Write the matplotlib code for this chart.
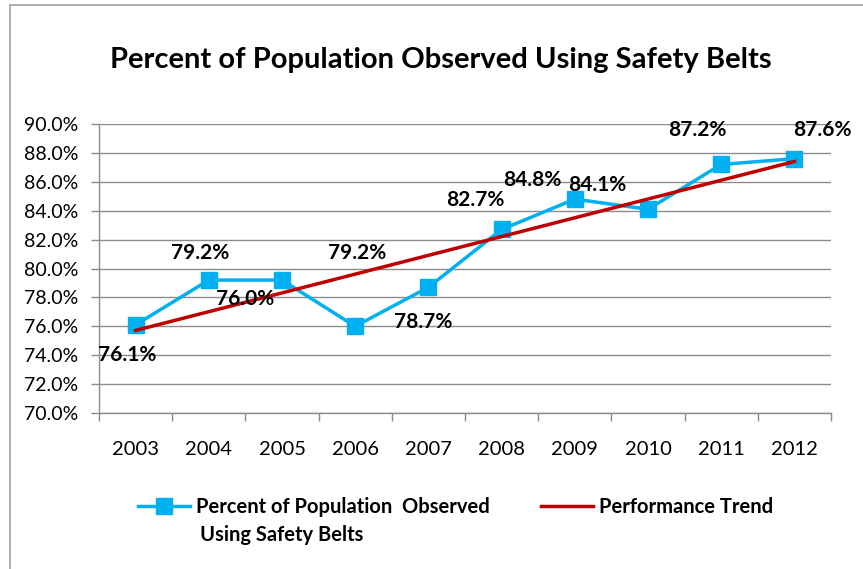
import numpy as np
import matplotlib
matplotlib.use("Agg")
import matplotlib.pyplot as plt
from matplotlib.patches import Rectangle

plt.rcParams['font.family'] = ['Lato', 'DejaVu Sans']

years = ['2003', '2004', '2005', '2006', '2007', '2008', '2009', '2010', '2011', '2012']
belt_use = [76.1, 79.2, 79.2, 76.0, 78.7, 82.7, 84.8, 84.1, 87.2, 87.6]
y_ticks = [70, 72, 74, 76, 78, 80, 82, 84, 86, 88, 90]
series_name = ['Percent of Population  Observed', 'Using Safety Belts']
trend_name = 'Performance Trend'
title = 'Percent of Population Observed Using Safety Belts'

# label placement (category units, data units) as seen in the original
label_pos = [(-0.11, 74.0), (0.875, 81.07), (3.02, 81.07), (1.49, 77.9), (3.93, 76.3),
             (4.64, 84.74), (5.42, 86.12), (6.31, 85.78), (7.67, 89.58), (9.38, 89.58)]

CYAN = '#00B0F0'
RED = '#C00000'

fig = plt.figure(figsize=(8.63, 5.69), dpi=100)
W, H = 863, 569
# outer chart border
fig.patches.append(Rectangle((10 / W, -0.1), 1.0, 1 - 5 / H + 0.1, transform=fig.transFigure,
                             fill=False, edgecolor='#A0A0A0', linewidth=1.2))

ax = fig.add_axes([99 / W, 1 - 413 / H, (831 - 99) / W, (413 - 124) / H])
x = np.arange(len(years))

ax.set_xlim(-0.5, len(years) - 0.5)
ax.set_ylim(70, 90)
ax.set_yticks(y_ticks)
ax.set_yticklabels([f'{v:.1f}%' for v in y_ticks], fontsize=14)
ax.set_xticks(x)
ax.set_xticklabels(years, fontsize=14.5)
ax.set_xticks(np.arange(-0.5, len(years)), minor=True)
ax.tick_params(axis='x', which='major', length=0, pad=20)
ax.tick_params(axis='x', which='minor', length=6, color='#8C8C8C', width=1)
ax.tick_params(axis='y', length=6, color='#8C8C8C', width=1, pad=9)
ax.grid(axis='y', color='#8C8C8C', linewidth=1)
ax.set_axisbelow(True)
for s in ['top', 'right']:
    ax.spines[s].set_visible(False)
for s in ['left', 'bottom']:
    ax.spines[s].set_color('#8C8C8C')
    ax.spines[s].set_linewidth(1)

l1, = ax.plot(x, belt_use, color=CYAN, linewidth=2.5, marker='s', markersize=12,
              markerfacecolor=CYAN, markeredgecolor=CYAN, zorder=3, label=series_name[0])
coef = np.polyfit(x, belt_use, 1)
trend = np.polyval(coef, x)
l2, = ax.plot(x, trend, color=RED, linewidth=2.5, zorder=4, label=trend_name)

for v, (px, py) in zip(belt_use, label_pos):
    ax.text(px, py, f'{v:.1f}%', ha='center', va='center', fontsize=15,
            fontweight='bold', clip_on=False, zorder=5)

fig.text(441 / W, 1 - 60 / H, title, ha='center', va='center',
         fontsize=21, fontweight='bold')

leg = fig.legend(handles=[l1, l2], loc='center left', bbox_to_anchor=(128 / W, 1 - 507 / H),
                 ncol=2, frameon=False, prop={'weight': 'bold', 'size': 14.5},
                 handlelength=2.6, columnspacing=2.5, handletextpad=0.3, borderpad=0)
fig.text(200 / W, 1 - 535 / H, series_name[1], ha='left', va='center',
         fontsize=14.5, fontweight='bold')

fig.savefig('out.png', dpi=100)
